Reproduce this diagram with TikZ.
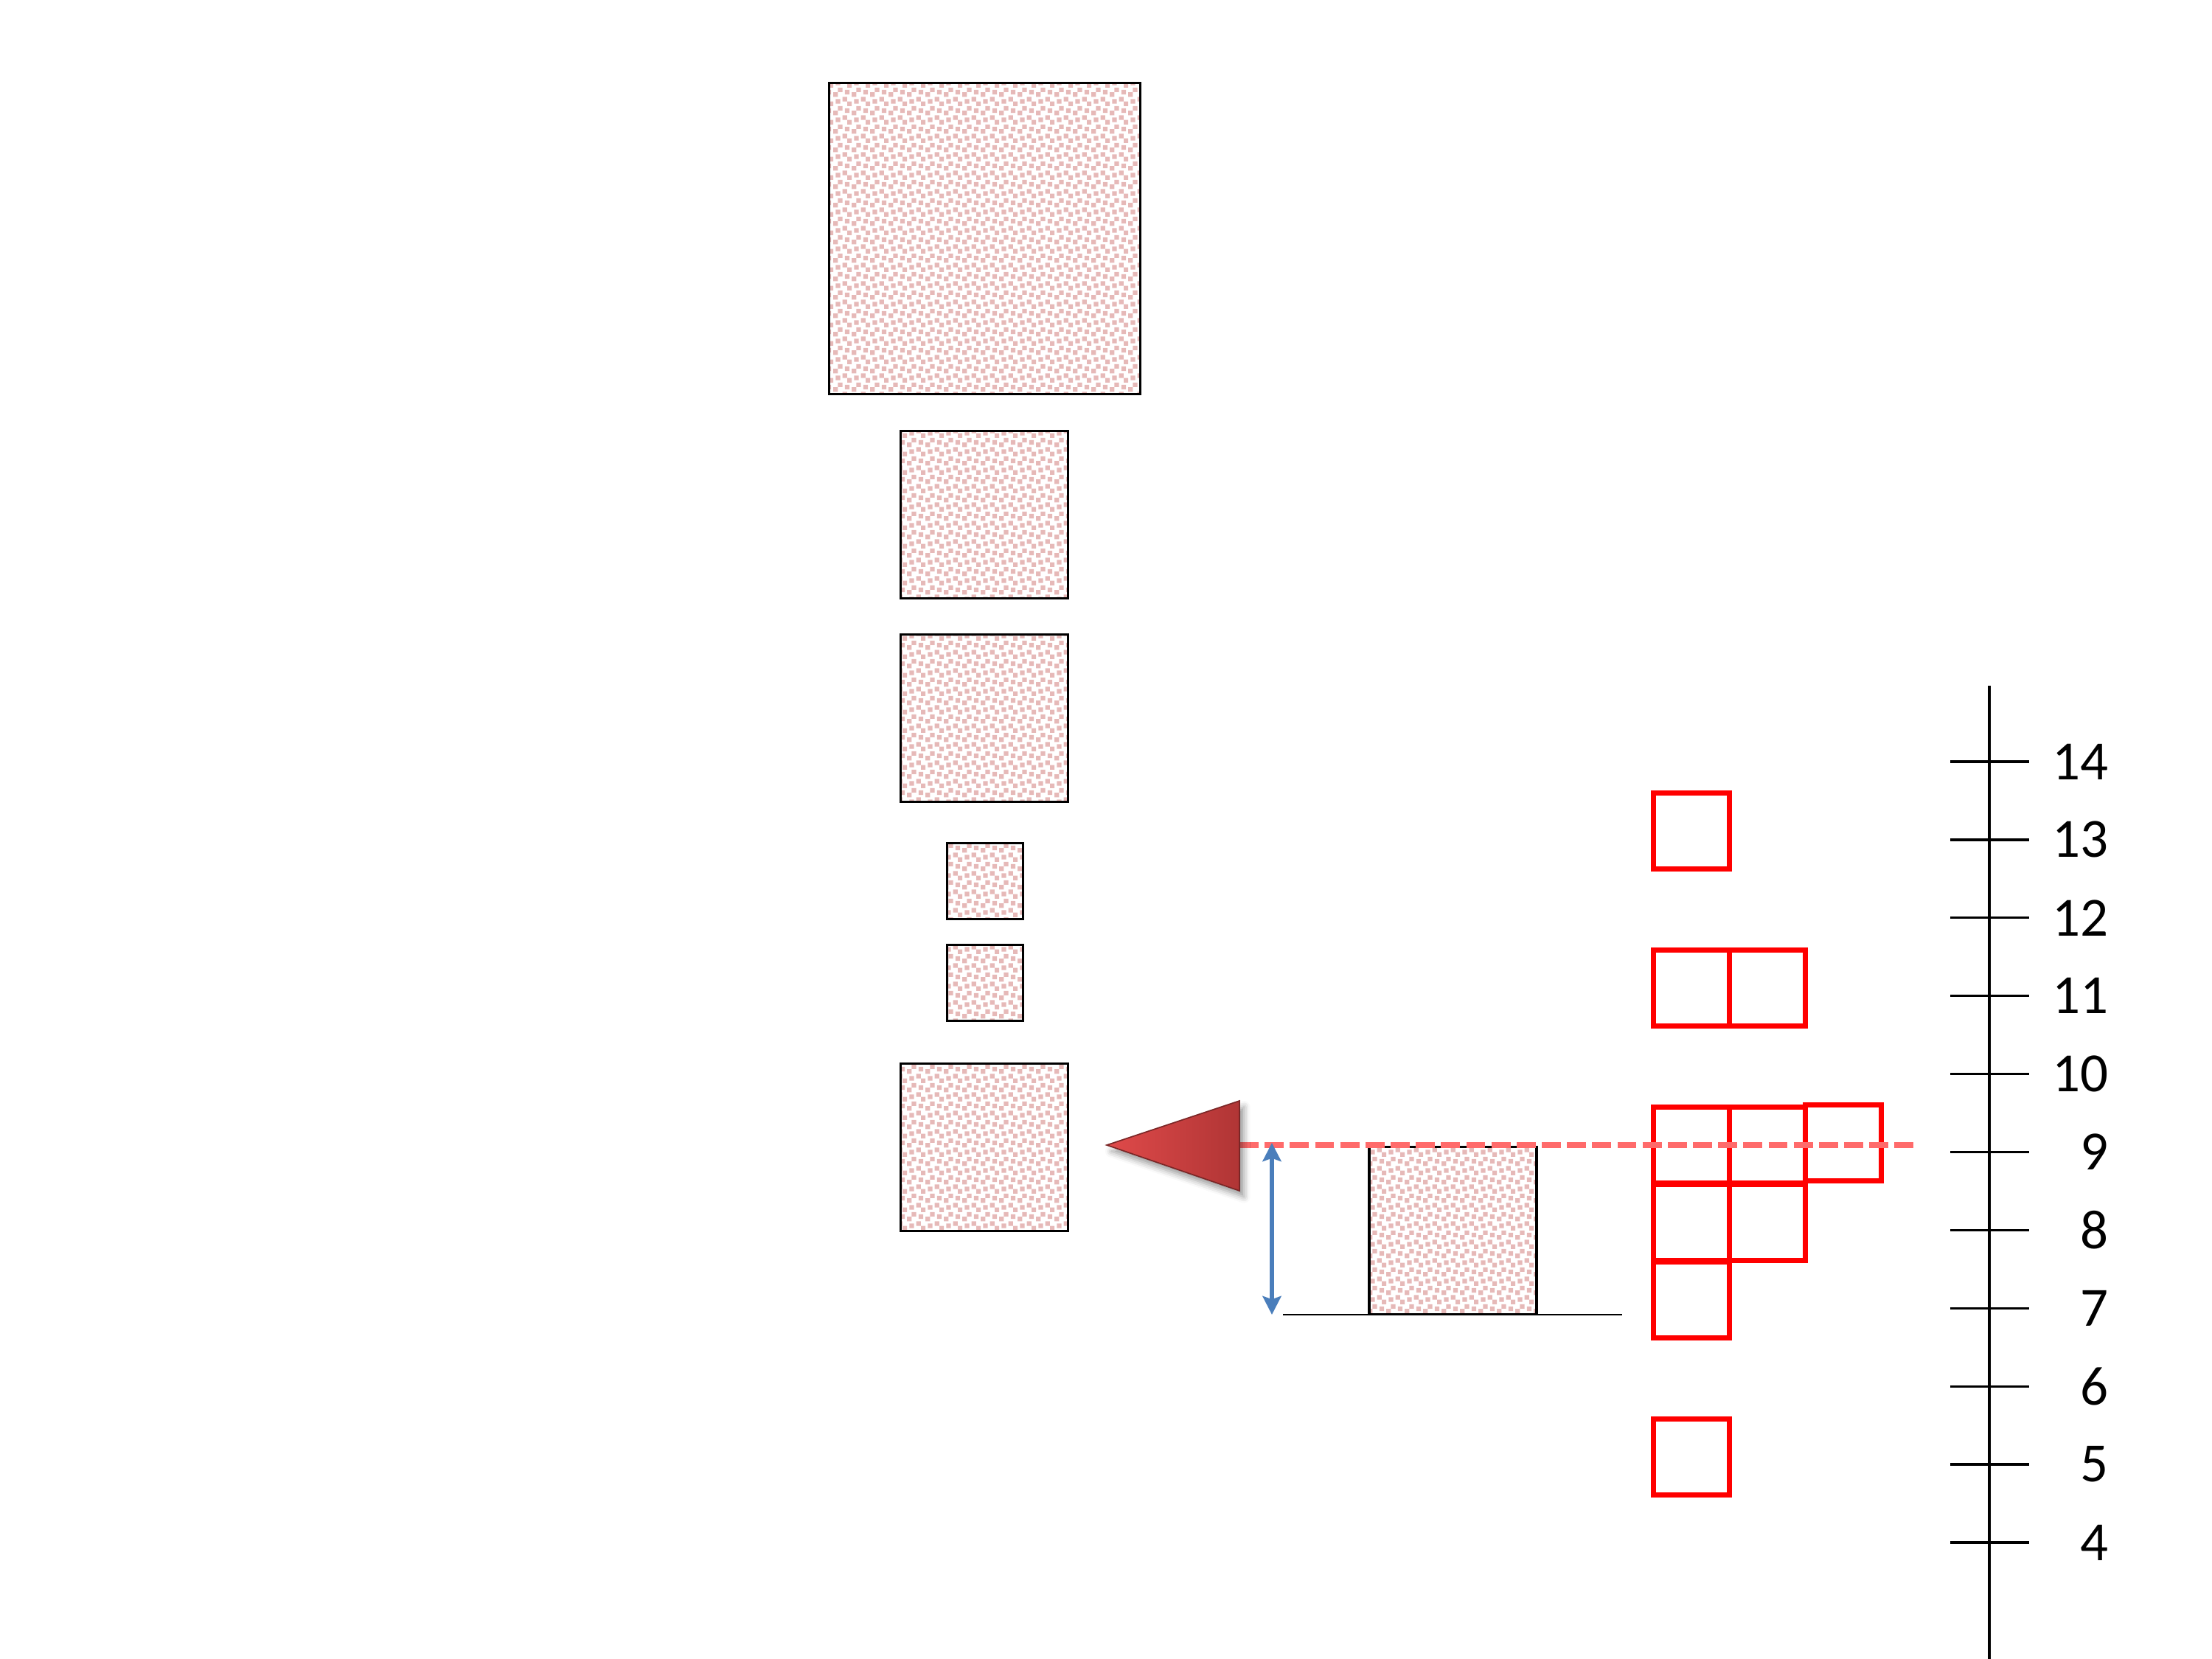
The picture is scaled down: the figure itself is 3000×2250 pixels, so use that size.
\documentclass[tikz,border=0pt]{standalone}
\usepackage{fontspec}
\setmainfont{Carlito}
\usetikzlibrary{patterns,arrows.meta,shadows.blur}
\definecolor{pinkp}{HTML}{E6B9B8}
\definecolor{dashred}{HTML}{FF6B6B}
\definecolor{arrblue}{HTML}{4A7EBB}
\definecolor{triL}{HTML}{E04A4A}
\definecolor{triR}{HTML}{B03535}
\definecolor{triE}{HTML}{7A2626}
\pgfdeclarepatternformonly{lconfetti}{\pgfpointorigin}{\pgfpoint{6pt}{6pt}}{\pgfpoint{6pt}{6pt}}{%
  \pgfpathrectangle{\pgfpoint{1.5pt}{4.5pt}}{\pgfpoint{1.5pt}{1.5pt}}%
  \pgfpathrectangle{\pgfpoint{4.5pt}{3pt}}{\pgfpoint{1.5pt}{1.5pt}}%
  \pgfpathrectangle{\pgfpoint{2.25pt}{2.25pt}}{\pgfpoint{1.5pt}{1.5pt}}%
  \pgfpathrectangle{\pgfpoint{0pt}{1.5pt}}{\pgfpoint{1.5pt}{1.5pt}}%
  \pgfpathrectangle{\pgfpoint{3pt}{0pt}}{\pgfpoint{1.5pt}{1.5pt}}%
  \pgfpathrectangle{\pgfpoint{0pt}{0pt}}{\pgfpoint{0.75pt}{0.75pt}}%
  \pgfpathrectangle{\pgfpoint{5.25pt}{0pt}}{\pgfpoint{0.75pt}{0.75pt}}%
  \pgfpathrectangle{\pgfpoint{0pt}{5.25pt}}{\pgfpoint{0.75pt}{0.75pt}}%
  \pgfpathrectangle{\pgfpoint{5.25pt}{5.25pt}}{\pgfpoint{0.75pt}{0.75pt}}%
  \pgfusepath{fill}%
}
\begin{document}
\begin{tikzpicture}[x=0.24pt,y=-0.24pt,
  pbox/.style={draw=black, line width=0.75pt, pattern=lconfetti, pattern color=pinkp, inner sep=0pt, outer sep=0pt},
  rbox/.style={draw=red, line width=1.5pt, minimum size=24.7pt, inner sep=0pt},
  axtick/.style={line width=0.8pt},
  lbl/.style={anchor=east, inner sep=0pt, font=\fontsize{18}{22}\selectfont}]
\useasboundingbox (0,0) rectangle (3000,2250);
% left column of patterned squares
\node[pbox, minimum size=101.3pt] (s1) at (1335.5,323.5) {};
\node[pbox, minimum size=54.5pt] (s2) at (1335,698) {};
\node[pbox, minimum size=54.5pt] (s3) at (1335,974) {};
\node[pbox, minimum size=24.7pt] (s4) at (1336,1195) {};
\node[pbox, minimum size=24.7pt] (s5) at (1336,1333) {};
\node[pbox, minimum size=54.5pt] (s6) at (1335,1556) {};
% ground line and middle box
\coordinate (g1) at (1740,1783);
\coordinate (g2) at (2200,1783);
\draw[line width=0.6pt] (g1) -- (g2);
\node[pbox, minimum size=54.5pt] (mbox) at (1970.5,1669) {};
% red boxes
\node[rbox] (r13) at (2294,1127) {};
\node[rbox] (r11a) at (2294,1340) {};
\node[rbox] (r11b) at (2397,1340) {};
\node[rbox] (r9a) at (2294,1553) {};
\node[rbox] (r9b) at (2397,1553) {};
\node[rbox] (r9c) at (2500,1550) {};
\node[rbox] (r8a) at (2294,1658) {};
\node[rbox] (r8b) at (2397,1658) {};
\node[rbox] (r7) at (2294,1763) {};
\node[rbox] (r5) at (2294,1976) {};
% dashed level line
\coordinate (d1) at (1681,1553);
\coordinate (d2) at (2602,1553);
\draw[dashred, line width=1.9pt, dash pattern=on 6.2pt off 2pt] (d1) -- (d2);
% triangle marker
\coordinate (tip) at (1501,1553);
\coordinate (ttop) at (1681,1493);
\coordinate (tbot) at (1681,1615);
\path[blur shadow={shadow xshift=1.5pt, shadow yshift=-2pt, shadow blur radius=2pt, shadow opacity=40},
  left color=triL, right color=triR, draw=triE, line width=0.4pt] (tip) -- (ttop) -- (tbot) -- cycle;
% blue double arrow
\coordinate (a1) at (1725,1550);
\coordinate (a2) at (1725,1783);
\draw[arrblue, line width=1.5pt, {Stealth[length=6pt,width=6pt,inset=1pt]}-{Stealth[length=6pt,width=6pt,inset=1pt]}] (a1) -- (a2);
% axis
\coordinate (axt) at (2698,930);
\coordinate (axb) at (2698,2250);
\draw[line width=1pt] (axt) -- (axb);
\foreach \v in {4,...,14} {
  \pgfmathsetmacro\yy{1033+(14-\v)*105.9}
  \coordinate (tl\v) at (2645,\yy);
  \coordinate (tr\v) at (2752,\yy);
  \draw[axtick] (tl\v) -- (tr\v);
  \node[lbl] (lab\v) at (2860,\yy) {\v};
}
\end{tikzpicture}
\end{document}
